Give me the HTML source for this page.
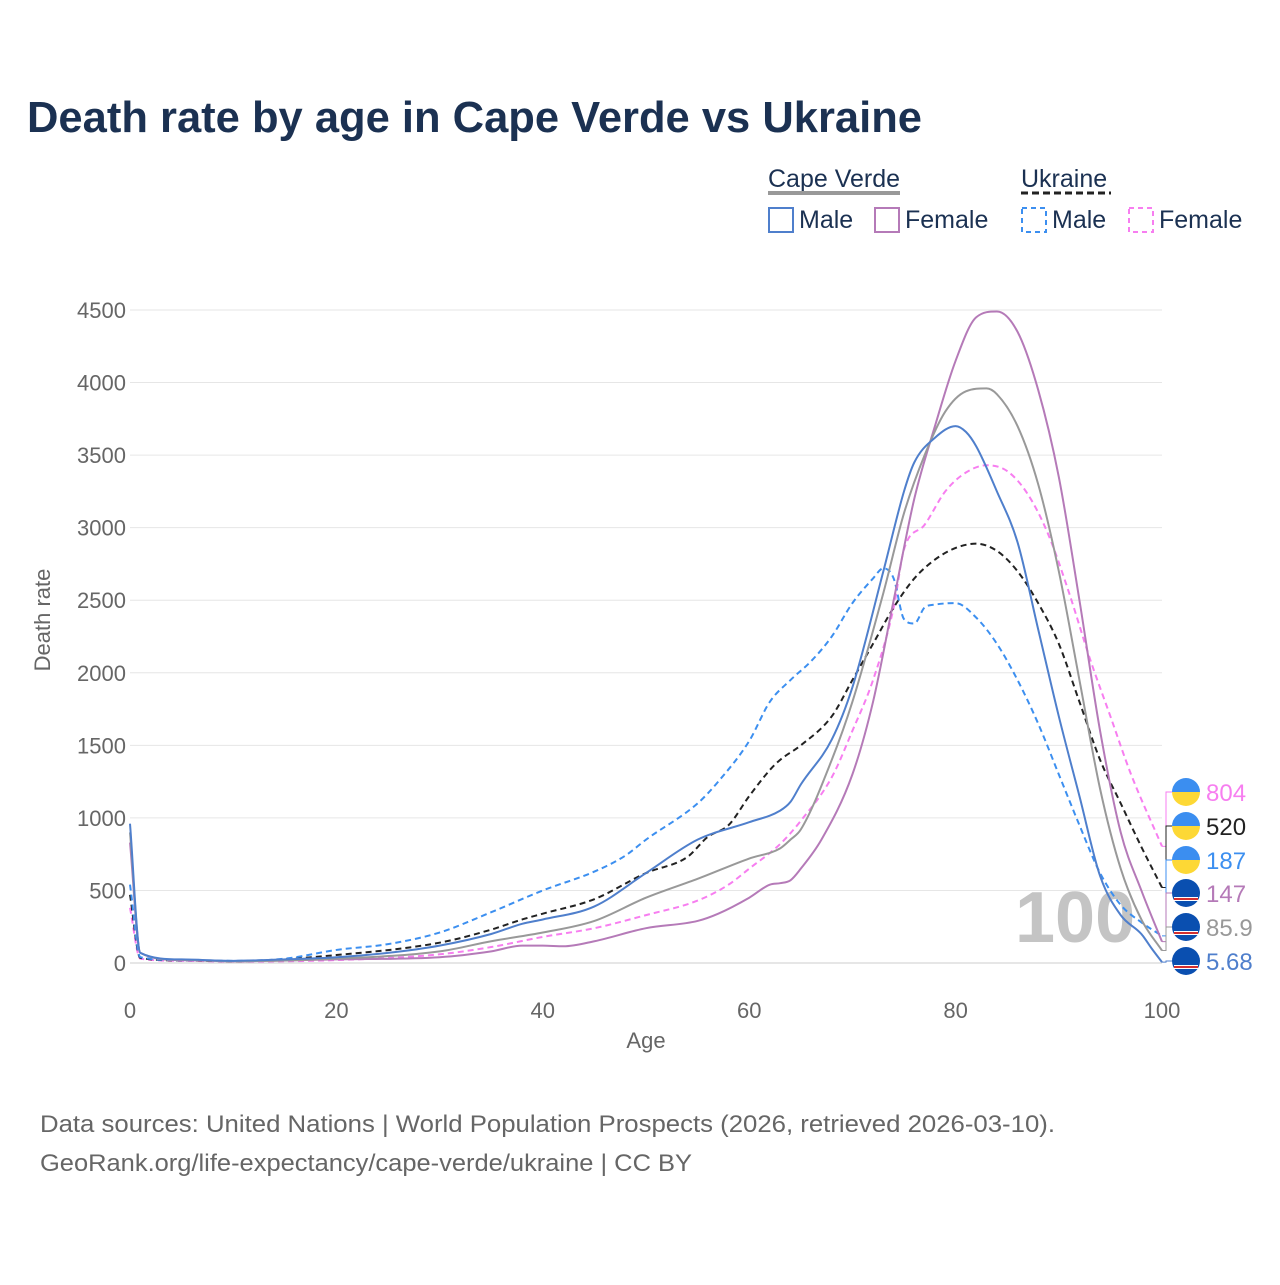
<!DOCTYPE html>
<html><head><meta charset="utf-8"><style>
body{margin:0;background:#fff;font-family:"Liberation Sans",sans-serif}
#wrap{position:relative;width:1280px;height:1280px}
</style></head><body><div id="wrap">
<svg id="svg" width="1280" height="1280" xmlns="http://www.w3.org/2000/svg">
<text x="27" y="132" font-size="44" font-weight="bold" fill="#1b3152" textLength="895" lengthAdjust="spacingAndGlyphs">Death rate by age in Cape Verde vs Ukraine</text>
<g font-size="25" fill="#1b3152">
<text x="768" y="187">Cape Verde</text>
<line x1="768" y1="193" x2="900" y2="193" stroke="#999" stroke-width="4"/>
<text x="1021" y="187">Ukraine</text>
<line x1="1021" y1="193" x2="1111" y2="193" stroke="#222" stroke-width="3" stroke-dasharray="7,4"/>
<rect x="769" y="208" width="24" height="24" fill="none" stroke="#4f7fcc" stroke-width="2"/>
<text x="799" y="228">Male</text>
<rect x="875" y="208" width="24" height="24" fill="none" stroke="#b57ab8" stroke-width="2"/>
<text x="905" y="228">Female</text>
<rect x="1022" y="208" width="24" height="24" fill="none" stroke="#3c8ff0" stroke-width="2" stroke-dasharray="5,4"/>
<text x="1052" y="228">Male</text>
<rect x="1129" y="208" width="24" height="24" fill="none" stroke="#f77ef0" stroke-width="2" stroke-dasharray="5,4"/>
<text x="1159" y="228">Female</text>
</g>
<g id="grid"></g>
<text x="1015" y="942" font-size="72" font-weight="bold" fill="#c4c4c4">100</text>
<g id="lines"></g>
<g id="labels"></g>
<text x="646" y="1048" font-size="22" fill="#666" text-anchor="middle">Age</text>
<text transform="translate(50,620) rotate(-90)" font-size="22" fill="#666" text-anchor="middle">Death rate</text>
<text x="40" y="1132" font-size="24" fill="#666" textLength="1015" lengthAdjust="spacingAndGlyphs">Data sources: United Nations | World Population Prospects (2026, retrieved 2026-03-10).</text>
<text x="40" y="1171" font-size="24" fill="#666" textLength="652" lengthAdjust="spacingAndGlyphs">GeoRank.org/life-expectancy/cape-verde/ukraine | CC BY</text>
</svg></div>
<script>
const yTicks=[0,500,1000,1500,2000,2500,3000,3500,4000,4500];
const xTicks=[0,20,40,60,80,100];
const cvMaleAge=[0,1,5,10,15,20,25,30,35,38,40,45,50,55,60,63,64,65,68,70,73,75,76,78,80,81,82,84,86,88,90,92,94,96,98,99,100];
const cvMaleVal=[960,70,25,15,25,40,70,120,200,270,300,390,620,850,970,1050,1110,1230,1540,1900,2700,3250,3450,3620,3700,3660,3560,3250,2900,2300,1700,1150,600,330,200,100,5.68];
const cvFemaleAge=[0,1,5,10,20,30,35,38,40,42,45,50,55,57,60,62,63,64,65,67,70,72,74,76,78,80,82,84,86,88,90,92,94,96,98,100];
const cvFemaleVal=[830,70,20,12,25,40,80,120,120,115,150,240,290,340,450,540,550,570,650,850,1300,1800,2500,3200,3700,4150,4450,4490,4350,3950,3350,2500,1600,900,500,147];
const cvTotalAge=[0,1,5,10,20,30,35,40,45,50,55,60,63,64,65,68,70,73,75,77,79,81,83,84,86,88,90,92,94,96,98,100];
const cvTotalVal=[900,70,22,13,30,80,150,210,290,450,580,720,790,850,920,1400,1800,2550,3100,3500,3800,3940,3960,3920,3700,3300,2700,1950,1200,650,300,85.9];
const uaMaleAge=[0,1,5,10,15,20,25,30,35,40,45,48,50,55,57,60,62,64,66,68,70,72,73,74,75,76,77,78,80,82,84,86,88,90,92,94,96,98,100];
const uaMaleVal=[540,40,20,15,30,90,130,210,350,500,630,740,850,1100,1250,1530,1800,1950,2080,2250,2480,2650,2720,2650,2370,2340,2450,2470,2480,2380,2200,1950,1650,1300,950,620,400,280,187];
const uaFemaleAge=[0,1,5,10,20,30,35,40,45,50,55,58,60,63,65,68,70,72,74,75,77,79,81,83,85,87,89,91,93,95,97,100];
const uaFemaleVal=[380,30,15,10,20,60,110,180,240,330,430,540,650,820,980,1280,1600,1950,2450,2850,3020,3250,3380,3430,3390,3230,2950,2550,2100,1700,1300,804];
const uaTotalAge=[0,1,5,10,20,30,35,38,40,45,50,54,56,58,60,62,63,65,68,70,72,74,76,78,80,82,84,86,88,90,92,94,96,98,100];
const uaTotalVal=[470,35,18,12,55,140,230,300,340,440,620,730,870,950,1150,1330,1400,1500,1700,1950,2200,2450,2650,2780,2860,2890,2840,2700,2480,2200,1800,1400,1100,800,520];
const endLabels=["804","520","187","147","85.9","5.68"];

const NS="http://www.w3.org/2000/svg";
const X=a=>130+a*10.32, Y=v=>963-v*0.14511;
function mk(t,p,a){const e=document.createElementNS(NS,t);for(const k in a)e.setAttribute(k,a[k]);p.appendChild(e);return e;}
const grid=document.getElementById('grid');
yTicks.forEach(t=>{
 const l=mk('line',grid,{x1:130,x2:1162,y1:Y(t),y2:Y(t),stroke:t?'#e6e6e6':'#ccc','stroke-width':1});
 
 
 const tx=mk('text',grid,{x:126,y:Y(t)+8,'font-size':22,fill:'#666','text-anchor':'end'});tx.textContent=t;
 
 
});
xTicks.forEach(t=>{
 const tx=mk('text',grid,{x:X(t),y:1018,'font-size':22,fill:'#666','text-anchor':'middle'});tx.textContent=t;
 
 
});
function path(ag,vl){
 const xs=ag.map(X),ys=vl.map(Y),n=xs.length;
 const d=[],m=new Array(n);
 for(let i=0;i<n-1;i++)d.push((ys[i+1]-ys[i])/(xs[i+1]-xs[i]));
 m[0]=d[0];m[n-1]=d[n-2];
 for(let i=1;i<n-1;i++){m[i]=(d[i-1]*d[i]<=0)?0:(d[i-1]+d[i])/2;}
 for(let i=0;i<n-1;i++){if(d[i]===0){m[i]=m[i+1]=0;continue;}
  const a=m[i]/d[i],b=m[i+1]/d[i],s=a*a+b*b;if(s>9){const t=3/Math.sqrt(s);m[i]=t*a*d[i];m[i+1]=t*b*d[i];}}
 let p='M'+xs[0]+','+ys[0];
 for(let i=0;i<n-1;i++){const h=(xs[i+1]-xs[i])/3;
  p+='C'+(xs[i]+h)+','+(ys[i]+m[i]*h)+' '+(xs[i+1]-h)+','+(ys[i+1]-m[i+1]*h)+' '+xs[i+1]+','+ys[i+1];}
 return p;}
const lines=document.getElementById('lines');
const series=[
 [uaFemaleAge,uaFemaleVal,'#f77ef0','6,4','ua-female-line'],
 [uaTotalAge,uaTotalVal,'#222','6,4','ua-total-line'],
 [uaMaleAge,uaMaleVal,'#3c8ff0','6,4','ua-male-line'],
 [cvFemaleAge,cvFemaleVal,'#b57ab8','','cv-female-line'],
 [cvTotalAge,cvTotalVal,'#999','','cv-total-line'],
 [cvMaleAge,cvMaleVal,'#4f7fcc','','cv-male-line']];
const labs=document.getElementById('labels');
const labY=[792,826,860,893,927,961];
series.forEach((s,i)=>{
 const p=mk('path',lines,{d:path(s[0],s[1]),fill:'none',stroke:s[2],'stroke-width':2,'stroke-dasharray':s[3]});
 
 
 const ey=Y(s[1][s[1].length-1]);
 mk('path',labs,{d:`M1162,${ey}L1166,${ey}L1166,${labY[i]}L1172,${labY[i]}`,fill:'none',stroke:s[2],'stroke-width':1});
 const ua=i<3;const cy=labY[i];
 if(ua){mk('path',labs,{d:`M1172,${cy}A14,14 0 0 1 1200,${cy}Z`,fill:'#3b8ef0'});mk('path',labs,{d:`M1172,${cy}A14,14 0 0 0 1200,${cy}Z`,fill:'#fdd835'});}
 else{mk('circle',labs,{cx:1186,cy:cy,r:14,fill:'#0a4fb0'});mk('rect',labs,{x:1174,y:cy+4,width:24,height:4,fill:'#fff'});mk('rect',labs,{x:1174,y:cy+5,width:24,height:2,fill:'#d32f2f'});}
 const t=mk('text',labs,{x:1206,y:cy+9,'font-size':24,fill:s[2]});t.textContent=endLabels[i];
 
 
});
</script></body></html>
